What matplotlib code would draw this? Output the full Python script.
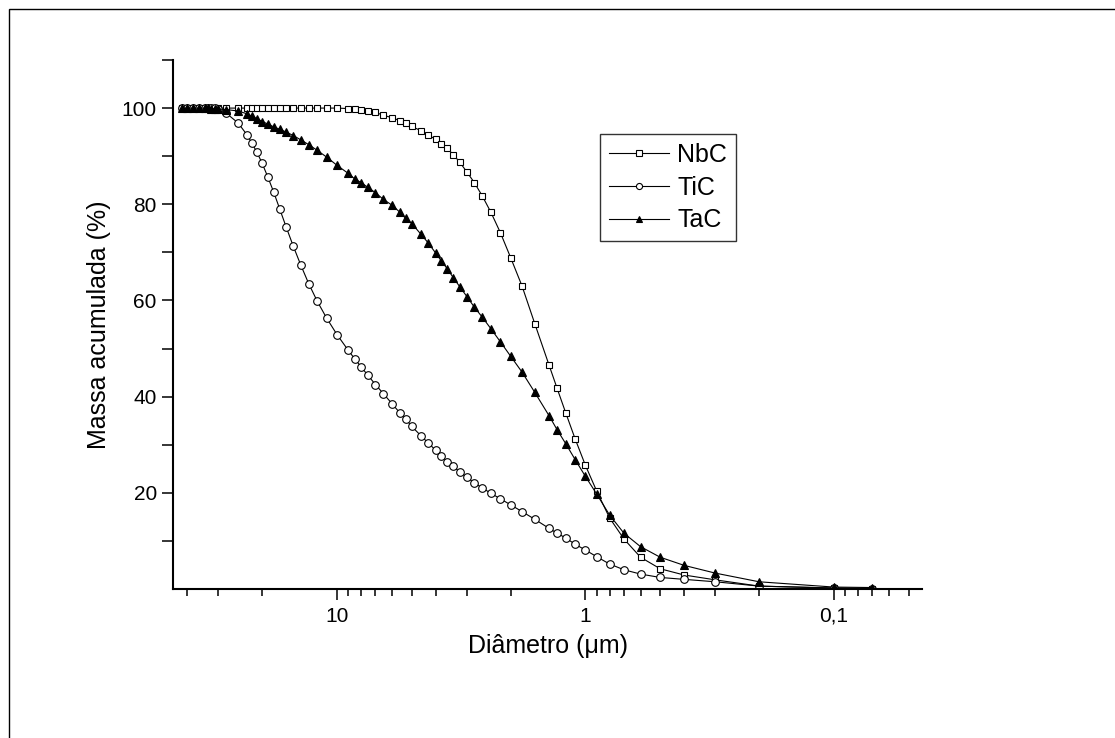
"""Cumulative particle size distribution of NbC, TiC and TaC powders."""

import matplotlib
matplotlib.use("Agg")
import matplotlib.pyplot as plt
from matplotlib.patches import Rectangle
from matplotlib.ticker import FixedLocator, FuncFormatter, LogLocator, NullFormatter

plt.rcParams["font.family"] = ["Liberation Sans", "DejaVu Sans"]

# particle diameter classes (um), largest first
diametro = [42, 40, 38, 36, 34, 33, 32, 31, 30, 28,
            25, 23, 22, 21, 20, 19, 18, 17, 16, 15,
            14, 13, 12, 11, 10, 9, 8.5, 8, 7.5, 7,
            6.5, 6, 5.6, 5.3, 5, 4.6, 4.3, 4, 3.8, 3.6,
            3.4, 3.2, 3.0, 2.8, 2.6, 2.4, 2.2, 2.0, 1.8, 1.6,
            1.4, 1.3, 1.2, 1.1, 1.0, 0.9, 0.8, 0.7, 0.6, 0.5,
            0.4, 0.3, 0.2, 0.1, 0.07]

# cumulative mass (%)
nbc = [100, 100, 100, 100, 100, 100, 100, 100, 100, 100,
       100, 100, 100, 100, 100, 100, 100, 100, 100, 100,
       100, 100, 100, 100, 100, 99.9, 99.8, 99.6, 99.4, 99.1,
       98.5, 98.0, 97.4, 96.8, 96.2, 95.3, 94.4, 93.5, 92.5, 91.6,
       90.3, 88.7, 86.7, 84.5, 81.7, 78.3, 74.1, 68.9, 63.0, 55.2,
       46.5, 41.7, 36.6, 31.2, 25.7, 20.3, 14.8, 10.4, 6.6, 4.2,
       2.9, 1.9, 0.6, 0.2, 0.1]

tic = [100, 100, 100, 100, 100, 100, 100, 100, 99.8, 99.0,
       96.9, 94.4, 92.7, 90.8, 88.5, 85.7, 82.6, 79.0, 75.2, 71.3,
       67.4, 63.5, 59.8, 56.3, 52.9, 49.6, 47.9, 46.2, 44.4, 42.5,
       40.6, 38.5, 36.7, 35.4, 33.8, 31.9, 30.4, 28.8, 27.6, 26.5,
       25.5, 24.3, 23.2, 22.1, 21.0, 19.9, 18.75, 17.5, 16.1, 14.5,
       12.6, 11.6, 10.6, 9.3, 8.1, 6.7, 5.2, 4.0, 3.1, 2.4,
       2.0, 1.5, 0.6, 0.2, 0.1]

tac = [100, 100, 100, 100, 100, 100, 99.9, 99.9, 99.8, 99.7,
       99.4, 98.8, 98.3, 97.8, 97.2, 96.7, 96.1, 95.6, 95.0, 94.3,
       93.4, 92.4, 91.2, 89.8, 88.1, 86.4, 85.3, 84.5, 83.5, 82.4,
       81.0, 79.8, 78.4, 77.1, 76.0, 73.8, 72.0, 69.8, 68.2, 66.6,
       64.7, 62.8, 60.8, 58.6, 56.5, 54.1, 51.4, 48.4, 45.1, 40.9,
       36.0, 33.1, 30.2, 26.9, 23.4, 19.7, 15.4, 11.6, 8.8, 6.6,
       4.9, 3.3, 1.5, 0.4, 0.3]


def comma_fmt(v, pos):
    return ("%g" % v).replace(".", ",")


def main():
    fig = plt.figure(figsize=(11.15, 7.38), dpi=100)
    ax = fig.add_axes([0.1552, 0.2019, 0.6717, 0.7168])

    common = dict(color="black", linewidth=0.8, markeredgewidth=0.8)
    ax.plot(diametro, nbc, marker="s", markersize=5, markerfacecolor="white",
            label="NbC", **common)
    ax.plot(diametro, tic, marker="o", markersize=5.5, markerfacecolor="white",
            label="TiC", **common)
    ax.plot(diametro, tac, marker="^", markersize=6, markerfacecolor="black",
            label="TaC", **common)

    ax.set_xscale("log")
    ax.set_xlim(45.7, 0.0442)
    ax.set_ylim(0, 110)

    ax.xaxis.set_major_locator(FixedLocator([10, 1, 0.1]))
    ax.xaxis.set_major_formatter(FuncFormatter(comma_fmt))
    ax.xaxis.set_minor_locator(LogLocator(base=10, subs=range(2, 10), numticks=20))
    ax.xaxis.set_minor_formatter(NullFormatter())
    ax.yaxis.set_major_locator(FixedLocator([20, 40, 60, 80, 100]))
    ax.yaxis.set_minor_locator(FixedLocator([10, 30, 50, 70, 90, 110]))

    for s in ("top", "right"):
        ax.spines[s].set_visible(False)
    for s in ("left", "bottom"):
        ax.spines[s].set_linewidth(1.5)

    ax.tick_params(axis="both", which="both", direction="out", width=1.1, labelsize=15)
    ax.tick_params(axis="x", which="major", length=7.7, pad=5)
    ax.tick_params(axis="x", which="minor", length=4.8)
    ax.tick_params(axis="y", which="both", length=7.7, pad=4)

    ax.set_xlabel("Diâmetro (\u03bcm)", fontsize=18, labelpad=6)
    ax.set_ylabel("Massa acumulada (%)", fontsize=18, labelpad=8)

    leg = ax.legend(loc="upper left", bbox_to_anchor=(0.570, 0.860), borderaxespad=0,
                    fontsize=18, frameon=True, fancybox=False, edgecolor="black",
                    borderpad=0.35, labelspacing=0.35, handlelength=2.4,
                    handletextpad=0.35, markerscale=0.8)
    leg.get_frame().set_linewidth(1.0)

    # outer frame around the figure
    fig.patches.append(Rectangle((9 / 1115, -0.05), 1.2, (738 - 9) / 738 + 0.05,
                                 transform=fig.transFigure, fill=False,
                                 edgecolor="black", linewidth=1.0))

    fig.savefig("out.png", dpi=100)
    plt.close(fig)


if __name__ == "__main__":
    main()
